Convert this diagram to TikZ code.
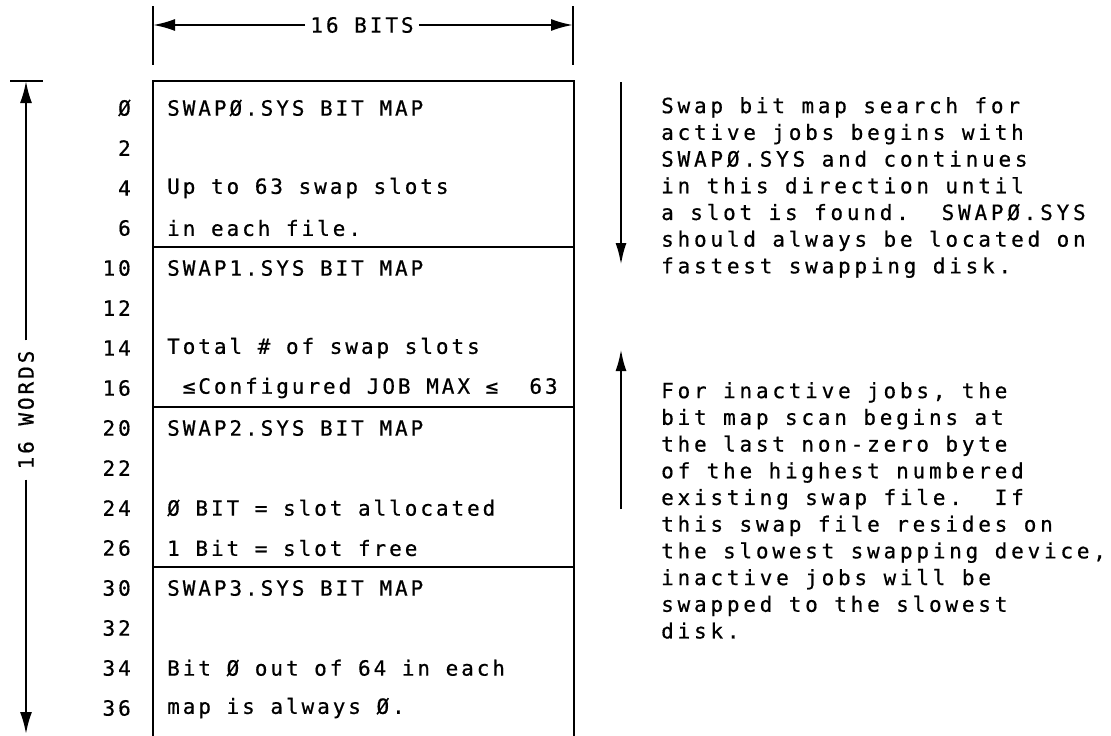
\documentclass[tikz,border=0pt]{standalone}
\usepackage{fontspec}
\setmainfont[LetterSpace=14,FakeBold=0.6]{DejaVu Sans Mono}
\newfontfamily\notefont[LetterSpace=18,FakeBold=0.6]{DejaVu Sans Mono}
\usetikzlibrary{arrows.meta,positioning,calc}

\begin{document}
\begin{tikzpicture}[
  x=1pt,y=-1pt,
  frame/.style={line width=2.6pt,black},
  dimline/.style={line width=2.2pt,black},
  dimarr/.style={-{Latex[length=22pt,width=12pt]},line width=2.2pt},
  flowarr/.style={-{Latex[length=22pt,width=11pt]},line width=2.6pt},
  num/.style={font=\fontsize{21}{23}\selectfont,anchor=east,inner sep=0pt},
  cell/.style={font=\fontsize{21}{23}\selectfont,anchor=west,inner sep=0pt},
  note/.style={font=\notefont\fontsize{21}{26.7}\selectfont,align=left,anchor=north west,inner sep=0pt}]
\useasboundingbox (0,0) rectangle (1111,736);

% ---------- top dimension: 16 bits ----------
\coordinate (bl) at (153,25);
\coordinate (br) at (573,25);
\draw[dimline] (153,6) -- (153,65);
\draw[dimline] (573,6) -- (573,65);
\node[font=\fontsize{21}{23}\selectfont,inner sep=5pt] (bits) at (362,25) {16 BITS};
\draw[dimarr] (bits.west) -- (bl);
\draw[dimarr] (bits.east) -- (br);

% ---------- left dimension: 16 words ----------
\coordinate (wt) at (26,81);
\coordinate (wb) at (26,734);
\draw[dimline] (10,81) -- (43,81);
\node[font=\fontsize{21}{23}\selectfont,rotate=90,inner sep=10pt] (words) at (26,410) {16 WORDS};
\draw[dimarr] (words.east) -- (wt);
\draw[dimarr] (words.west) -- (wb);

% ---------- the four bit maps ----------
\draw[frame] (153,736) -- (153,81) -- (574,81) -- (574,736);
\draw[frame] (153,247) -- (574,247);
\draw[frame] (153,407) -- (574,407);
\draw[frame] (153,567) -- (574,567);

% word offsets (octal)
\node[num] (n0)  at (131,108) {Ø};
\node[num] (n2)  at (131,148) {2};
\node[num] (n4)  at (131,188) {4};
\node[num] (n6)  at (131,228) {6};
\node[num] (n10) at (131,268) {10};
\node[num] (n12) at (131,308) {12};
\node[num] (n14) at (131,348) {14};
\node[num] (n16) at (131,388) {16};
\node[num] (n20) at (131,428) {20};
\node[num] (n22) at (131,468) {22};
\node[num] (n24) at (131,508) {24};
\node[num] (n26) at (131,548) {26};
\node[num] (n30) at (131,588) {30};
\node[num] (n32) at (131,628) {32};
\node[num] (n34) at (131,668) {34};
\node[num] (n36) at (131,708) {36};

% contents of each map
\node[cell] (s0a) at (167,108) {SWAPØ.SYS BIT MAP};
\node[cell] (s0b) at (167,188) {Up to 63 swap slots};
\node[cell] (s0c) at (167,228) {in each file.};
\node[cell] (s1a) at (167,268) {SWAP1.SYS BIT MAP};
\node[cell] (s1b) at (167,348) {Total \# of swap slots};
\node[cell] (s1c) at (167,388) {\ ≤Configured JOB MAX ≤\ \ 63};
\node[cell] (s2a) at (167,428) {SWAP2.SYS BIT MAP};
\node[cell] (s2b) at (167,508) {Ø BIT = slot allocated};
\node[cell] (s2c) at (167,548) {1 Bit = slot free};
\node[cell] (s3a) at (167,588) {SWAP3.SYS BIT MAP};
\node[cell] (s3b) at (167,668) {Bit Ø out of 64 in each};
\node[cell] (s3c) at (167,708) {map is always Ø.};

% ---------- search directions ----------
\coordinate (dtop) at (621,82);
\coordinate (dtip) at (621,265);
\draw[flowarr] (dtop) -- (dtip);
\coordinate (ubot) at (621,509);
\coordinate (utip) at (621,349);
\draw[flowarr] (ubot) -- (utip);

\node[note] (active) at (661,97)
  {Swap bit map search for\\active jobs begins with\\SWAPØ.SYS and continues\\in this direction until\\a slot is found.\ \ SWAPØ.SYS\\should always be located on\\fastest swapping disk.};
\node[note] (inactive) at (661,382)
  {For inactive jobs, the\\bit map scan begins at\\the last non-zero byte\\of the highest numbered\\existing swap file.\ \ If\\this swap file resides on\\the slowest swapping device,\\inactive jobs will be\\swapped to the slowest\\disk.};
\end{tikzpicture}
\end{document}
